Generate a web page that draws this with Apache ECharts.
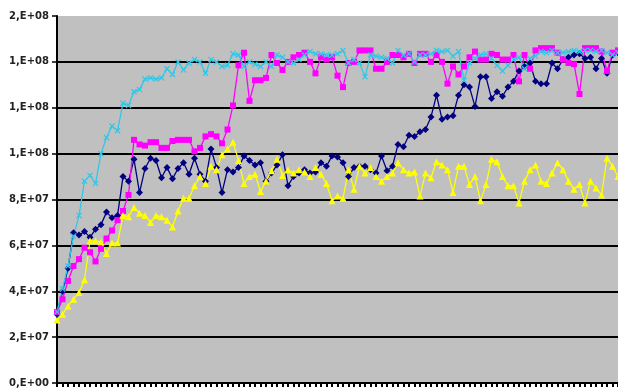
<!DOCTYPE html>
<html>
<head>
<meta charset="utf-8">
<script src="https://cdn.jsdelivr.net/npm/echarts@6/dist/echarts.min.js"></script>
<style>
html,body{margin:0;padding:0;background:#fff;}
#chart{width:618px;height:392px;}
</style>
</head>
<body>
<div id="chart"></div>
<script>
// Values in millions (1e6)
const categories = [];
for (let i = 1; i <= 103; i++) categories.push(String(i));

const navy = [30,40,50,65.5,64.5,66,63.5,67,69,74.5,72,73,90,88,97.5,83,93.5,98,97,89.5,94,89,93.5,96,91,98,
  91,88,102,94,83,93,92,94,99,97,95,96,88,91.5,95,99.5,86,90,91.5,93,91.5,92,96,94.5,99,98.5,96,90,94,94.5,94.5,93,91.5,99,92.5,94.5,104,103,
  108,107.5,109.5,110.5,116,125.5,115,116,116.5,125.5,130,129,120.5,133.5,133.5,124,127,125,129,131.5,136,138,139.5,131.5,130.5,130.5,139.5,137,141,142,143,143.5,141.5,142,137,141.5,135,143,144];

const magenta = [31,36.5,44.5,51,54,59,57,53,58.5,63,66.5,71,75,82,106,104,103.5,105,105,102.5,102.5,105.5,106,106,106,101,
  102.5,107.5,108.5,107.5,104.5,110.5,121,138.5,144,123,132,132,133,143,139.5,136.5,140,142,143,144,140,135,142,141,142,134,129,139.5,140,145,145,145,137,137,140,143,143,142,
  143.5,139.5,143.5,143.5,140,143,140,130.5,138,134.5,138,142,144.5,141,141,143.5,143,141,141,143,131.5,143,137,145,146,146,146,144,141,139.5,139,126,146,146,146,144.5,136,144,145];

const yellow = [27.5,30,33.5,36.5,39.5,45,62,62,61.5,56.5,61,61,73,72.5,76.5,74,73,70,73,72.5,71,68,75,80.5,80.5,86,
  90,87,94.5,93,99.5,102,105,97,87,90,91,83.5,88,92.5,97.5,90.5,93,91.5,93,92,90,94,91,87,79.5,81.5,80.5,93,84.5,94.5,91.5,94,90,88,90,91.5,96,93,
  91.5,92,81.5,91.5,89.5,96.5,95,93,83,94.5,94.5,86.5,90,79.5,86.5,97.5,96.5,90,86,86,78.5,88,93,95,88,87,91.5,96,93,88,84.5,86.5,78.5,88,85,82,98,94.5,90];

const cyan = [31,41,51,64,73,88,90.5,87,100,107,112,110,122,121,127,128,132.5,133,132.5,133,137,134.5,140,136.5,139.5,141,
  140,135,141,140,138,138.5,143.5,143,138,140,139,138,140,138,143,142,140,139.5,141,143,144.5,143.5,143.5,143,143,143.5,145,139.5,141,139.5,133.5,143,142.5,142,141.5,139.5,145,143,
  143.5,140,143,143,143.5,145,144.5,145,142.5,144.5,132,139.5,141.5,143,143.5,141.5,138.5,136,138.5,141,142,137,141.5,142.5,144.5,144,145,144,144,144.5,145,144.5,145,145,144.5,145,144,143,144];

const yTicks = { min: 0, max: 160, interval: 20 };

function sciLabel(v) {
  const actual = v * 1e6;
  if (actual === 0) return '0,E+00';
  let exp = Math.floor(Math.log10(actual) + 1e-9);
  let mant = Math.round(actual / Math.pow(10, exp));
  if (mant >= 10) { mant = 1; exp += 1; }
  return mant + ',E+' + (exp < 10 ? '0' + exp : exp);
}

const xSymbol = 'path://M0,1.5L1.5,0L5,3.5L8.5,0L10,1.5L6.5,5L10,8.5L8.5,10L5,6.5L1.5,10L0,8.5L3.5,5Z';

const chart = echarts.init(document.getElementById('chart'), null, { renderer: 'canvas' });
chart.setOption({
  animation: false,
  backgroundColor: '#ffffff',
  grid: {
    left: 57, right: 0, top: 16, bottom: 9,
    show: true, backgroundColor: '#C0C0C0', borderWidth: 0
  },
  xAxis: {
    type: 'category',
    data: categories,
    boundaryGap: false,
    axisLine: { lineStyle: { color: '#000', width: 2 } },
    axisTick: { show: true, interval: 0, length: 4, lineStyle: { color: '#000', width: 2 } },
    axisLabel: { show: false },
    splitLine: { show: false }
  },
  yAxis: {
    type: 'value',
    min: yTicks.min, max: yTicks.max, interval: yTicks.interval,
    axisLine: { show: true, lineStyle: { color: '#000', width: 2 } },
    axisTick: { show: true, length: 5, lineStyle: { color: '#000', width: 1.5 } },
    axisLabel: {
      formatter: sciLabel, color: '#222', fontFamily: 'DejaVu Sans', fontWeight: 'bold', fontSize: 10, margin: 8
    },
    splitLine: { show: true, showMaxLine: false, lineStyle: { color: '#000', width: 2 } }
  },
  series: [
    { name: 'S1', type: 'line', data: navy, color: '#000080', symbol: 'diamond', symbolSize: 7, showAllSymbol: true,
      lineStyle: { width: 1.3 }, itemStyle: { color: '#000080' } },
    { name: 'S2', type: 'line', data: magenta, color: '#FF00FF', symbol: 'rect', symbolSize: 6, showAllSymbol: true,
      lineStyle: { width: 1.3 }, itemStyle: { color: '#FF00FF' } },
    { name: 'S3', type: 'line', data: yellow, color: '#FFFF00', symbol: 'triangle', symbolSize: 7, showAllSymbol: true,
      lineStyle: { width: 1.3 }, itemStyle: { color: '#FFFF00' } },
    { name: 'S4', type: 'line', data: cyan, color: '#00FFFF', symbol: xSymbol, symbolSize: 6, showAllSymbol: true,
      lineStyle: { width: 1.3 }, itemStyle: { color: '#30C8E8' } }
  ]
});
</script>
</body>
</html>
